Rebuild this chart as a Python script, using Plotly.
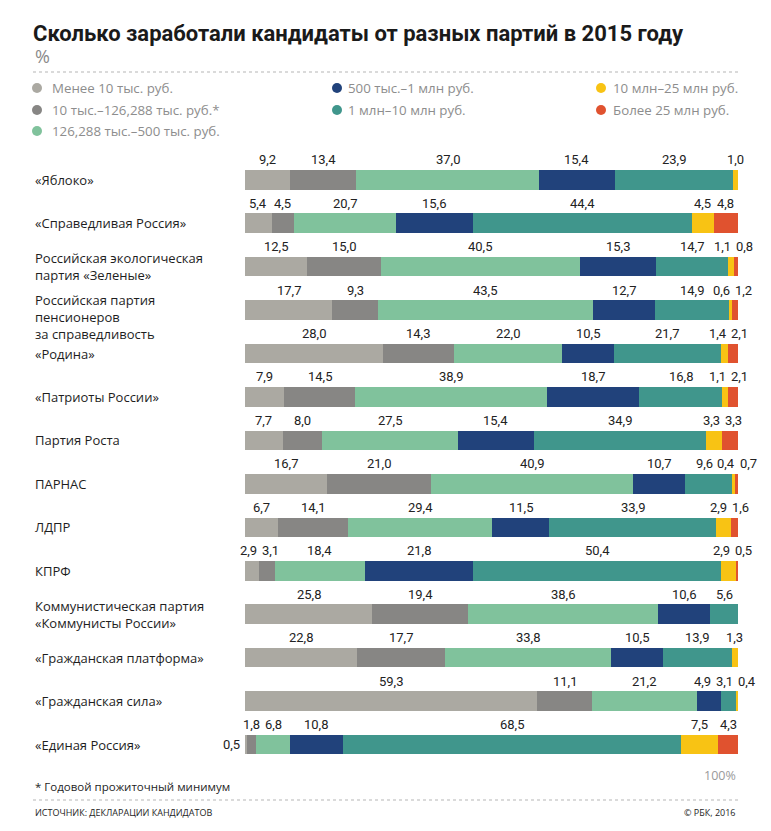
import plotly.graph_objects as go

parties = [
    "«Яблоко»",
    "«Справедливая Россия»",
    "Российская экологическая<br>партия «Зеленые»",
    "Российская партия<br>пенсионеров<br>за справедливость",
    "«Родина»",
    "«Патриоты России»",
    "Партия Роста",
    "ПАРНАС",
    "ЛДПР",
    "КПРФ",
    "Коммунистическая партия<br>«Коммунисты России»",
    "«Гражданская платформа»",
    "«Гражданская сила»",
    "«Единая Россия»",
]

series_names = [
    "Менее 10 тыс. руб.",
    "10 тыс.–126,288 тыс. руб.*",
    "126,288 тыс.–500 тыс. руб.",
    "500 тыс.–1 млн руб.",
    "1 млн–10 млн руб.",
    "10 млн–25 млн руб.",
    "Более 25 млн руб.",
]

less_10k = [9.2, 5.4, 12.5, 17.7, 28.0, 7.9, 7.7, 16.7, 6.7, 2.9, 25.8, 22.8, 59.3, 0.5]
k10_126 = [13.4, 4.5, 15.0, 9.3, 14.3, 14.5, 8.0, 21.0, 14.1, 3.1, 19.4, 17.7, 11.1, 1.8]
k126_500 = [37.0, 20.7, 40.5, 43.5, 22.0, 38.9, 27.5, 40.9, 29.4, 18.4, 38.6, 33.8, 21.2, 6.8]
k500_1m = [15.4, 15.6, 15.3, 12.7, 10.5, 18.7, 15.4, 10.7, 11.5, 21.8, 10.6, 10.5, 4.9, 10.8]
m1_10 = [23.9, 44.4, 14.7, 14.9, 21.7, 16.8, 34.9, 9.6, 33.9, 50.4, 5.6, 13.9, 3.1, 68.5]
m10_25 = [1.0, 4.5, 1.1, 0.6, 1.4, 1.1, 3.3, 0.4, 2.9, 2.9, None, 1.3, 0.4, 7.5]
over_25 = [None, 4.8, 0.8, 1.2, 2.1, 2.1, 3.3, 0.7, 1.6, 0.5, None, None, None, 4.3]

colors = ["#aba9a2", "#878684", "#80c29c", "#21427b", "#40968c", "#f8c314", "#e0522f"]

series = [less_10k, k10_126, k126_500, k500_1m, m1_10, m10_25, over_25]

W, H = 771, 831
ML, MR, MT, MB = 245, 33, 158, 57
plot_w = W - ML - MR
plot_h = H - MT - MB
px_per_pct = plot_w / 100.0
X_LEFT = -(ML - 33) / plot_w  # paper x of the left text edge

NUM_FONT = "Roboto, sans-serif"
TXT_FONT = "Open Sans, Noto Sans, sans-serif"


def py(ypix):
    return (H - MB - ypix) / plot_h


def px(xpix):
    return (xpix - ML) / plot_w


fig = go.Figure()
for name, vals, col in zip(series_names, series, colors):
    fig.add_trace(go.Bar(
        y=parties, x=vals, orientation="h", name=name,
        marker=dict(color=col, line=dict(width=0)),
        width=0.45, showlegend=False, hoverinfo="skip",
    ))


def fmt(v):
    return ("%.1f" % v).replace(".", ",")


annotations = []
shapes = []

# value labels with simple overlap avoidance
minsep = 22.0 / px_per_pct
for r, party in enumerate(parties):
    vals = [s[r] for s in series]
    cum = 0.0
    items = []
    for k, v in enumerate(vals):
        if v is None or v == 0:
            continue
        items.append([cum + v / 2.0, fmt(v), k, v])
        cum += v
    if items and items[0][2] == 0 and items[0][3] < 1.0:
        first = items.pop(0)
        annotations.append(dict(
            x=0, y=party, xref="paper", yref="y", text=first[1], showarrow=False,
            xanchor="right", yanchor="middle", xshift=-3,
            font=dict(family=NUM_FONT, size=13, color="#222222"),
        ))
    pos = [it[0] for it in items]
    for _ in range(400):
        moved = False
        for j in range(len(pos) - 1):
            gap = pos[j + 1] - pos[j]
            if gap < minsep - 1e-6:
                d = (minsep - gap) / 2.0
                pos[j] -= d
                pos[j + 1] += d
                moved = True
        if not moved:
            break
    for p, it in zip(pos, items):
        annotations.append(dict(
            x=p / 100.0, y=party, xref="paper", yref="y", text=it[1], showarrow=False,
            xanchor="center", yanchor="middle", yshift=20,
            font=dict(family=NUM_FONT, size=13, color="#222222"),
        ))
    nlines = party.count("<br>") + 1
    annotations.append(dict(
        x=X_LEFT, y=party, xref="paper", yref="y", text=party,
        showarrow=False, xanchor="left", yanchor="middle", align="left",
        yshift=-7 if nlines >= 3 else 0,
        font=dict(family=TXT_FONT, size=13, color="#1e1e1e"),
    ))

# legend (three columns, column-major order as in the reference)
legend_cols = [(37, 50), (337, 346), (601, 611)]
legend_rows = [88, 110, 131]
legend_slots = [(0, 0), (0, 1), (0, 2), (1, 0), (1, 1), (2, 0), (2, 1)]
for i, (c, rr) in enumerate(legend_slots):
    mx, tx = legend_cols[c]
    yy = py(legend_rows[rr])
    shapes.append(dict(
        type="circle", xref="paper", yref="paper",
        xsizemode="pixel", ysizemode="pixel",
        xanchor=px(mx), yanchor=yy, x0=-5, x1=5, y0=-5, y1=5,
        fillcolor=colors[i], line=dict(width=0),
    ))
    annotations.append(dict(
        x=px(tx), y=yy, xref="paper", yref="paper", text=series_names[i],
        showarrow=False, xanchor="left", yanchor="middle",
        font=dict(family=TXT_FONT, size=13.3, color="#8d8d8d"),
    ))

annotations += [
    dict(x=X_LEFT, y=py(56), xref="paper", yref="paper", text="%",
         showarrow=False, xanchor="left", yanchor="middle",
         font=dict(family=TXT_FONT, size=18, color="#8a8a8a")),
    dict(x=1.0, y=py(775), xref="paper", yref="paper", text="100%",
         showarrow=False, xanchor="right", yanchor="middle",
         font=dict(family=TXT_FONT, size=12.5, color="#9a9a9a")),
    dict(x=X_LEFT, y=py(786), xref="paper", yref="paper",
         text="* Годовой прожиточный минимум", showarrow=False,
         xanchor="left", yanchor="middle",
         font=dict(family=TXT_FONT, size=11.5, color="#1e1e1e")),
    dict(x=X_LEFT, y=py(812), xref="paper", yref="paper",
         text="ИСТОЧНИК: ДЕКЛАРАЦИИ КАНДИДАТОВ", showarrow=False,
         xanchor="left", yanchor="middle",
         font=dict(family=TXT_FONT, size=9, color="#1e1e1e")),
    dict(x=1.0, y=py(812), xref="paper", yref="paper",
         text="© РБК, 2016", showarrow=False, xanchor="right", yanchor="middle",
         font=dict(family=TXT_FONT, size=9, color="#1e1e1e")),
]

shapes += [
    dict(type="line", xref="paper", yref="paper",
         x0=X_LEFT, x1=1.0, y0=py(72), y1=py(72),
         line=dict(color="#b5b5b5", width=1, dash="dot")),
    dict(type="line", xref="paper", yref="paper",
         x0=X_LEFT, x1=1.0, y0=py(800), y1=py(800),
         line=dict(color="#b5b5b5", width=1, dash="dot")),
]

fig.update_layout(
    width=W, height=H, autosize=False,
    margin=dict(l=ML, r=MR, t=MT, b=MB, pad=0),
    paper_bgcolor="white", plot_bgcolor="white",
    barmode="stack", bargap=0.55,
    title=dict(
        text="<b>Сколько заработали кандидаты от разных партий в 2015 году</b>",
        x=33 / W, xanchor="left", xref="container",
        y=1 - 33 / H, yanchor="middle", yref="container",
        font=dict(family="Roboto, sans-serif", size=22, color="#1a1a1a"),
    ),
    xaxis=dict(range=[0, 100], visible=False, fixedrange=True),
    yaxis=dict(autorange="reversed", visible=False, fixedrange=True),
    annotations=annotations,
    shapes=shapes,
    showlegend=False,
)

fig.write_html("out.html", config={"displayModeBar": False},
               post_script="document.body.style.margin='0';")
